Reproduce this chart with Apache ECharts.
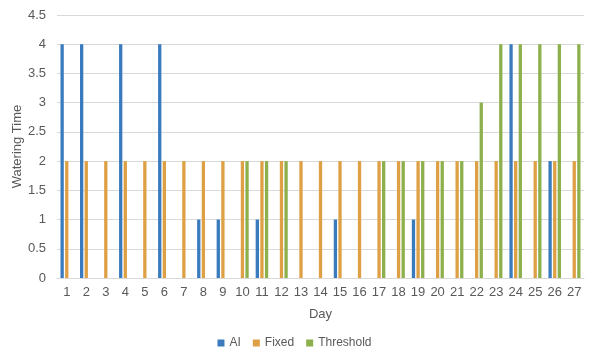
<!DOCTYPE html>
<html><head><meta charset="utf-8">
<script src="https://cdn.jsdelivr.net/npm/echarts@6/dist/echarts.min.js"></script>
<style>html,body{margin:0;padding:0;background:#fff}#c{width:589px;height:356px}</style>
</head><body><div id="c"></div>
<script>
const days = ['1','2','3','4','5','6','7','8','9','10','11','12','13','14','15','16','17','18','19','20','21','22','23','24','25','26','27'];
const aiValues = [4,4,0,4,0,4,0,1,1,0,1,0,0,0,1,0,0,0,1,0,0,0,0,4,0,2,0];
const fixedValues = [2,2,2,2,2,2,2,2,2,2,2,2,2,2,2,2,2,2,2,2,2,2,2,2,2,2,2];
const thresholdValues = [0,0,0,0,0,0,0,0,0,2,2,2,0,0,0,0,2,2,2,2,2,3,4,4,4,4,4];

const chart = echarts.init(document.getElementById('c'), null, {renderer:'canvas'});
const txt = '#595959';
const font = 'Liberation Sans, Arial, sans-serif';
const mk = (name, data, color) => ({name, type:'bar', data, barWidth:3.3, barGap:'40%', itemStyle:{color}});
chart.setOption({
  animation:false,
  textStyle:{fontFamily:font},
  grid:{left:57, right:5, top:15, bottom:78},
  legend:{bottom:2, left:'center', itemWidth:7, itemHeight:7, itemGap:12, icon:'rect',
    textStyle:{color:txt, fontSize:12, fontFamily:font}, data:['AI','Fixed','Threshold']},
  xAxis:{type:'category', data:days, name:'Day', nameLocation:'middle', nameGap:30, nameMoveOverlap:false,
    nameTextStyle:{color:txt, fontSize:13, fontFamily:font},
    axisLine:{lineStyle:{color:'#d9d9d9'}}, axisTick:{show:false},
    axisLabel:{color:txt, fontSize:13, margin:8, interval:0, fontFamily:font}},
  yAxis:{type:'value', min:0, max:4.5, interval:0.5, name:'Watering Time', nameLocation:'middle', nameGap:33, nameMoveOverlap:false,
    nameTextStyle:{color:txt, fontSize:13, fontFamily:font},
    axisLabel:{color:txt, fontSize:13, margin:11, fontFamily:font},
    splitLine:{lineStyle:{color:'#d9d9d9'}}, axisLine:{show:false}},
  series:[mk('AI', aiValues, '#3a7bbd'), mk('Fixed', fixedValues, '#dea044'), mk('Threshold', thresholdValues, '#8db04c')]
});
</script></body></html>
